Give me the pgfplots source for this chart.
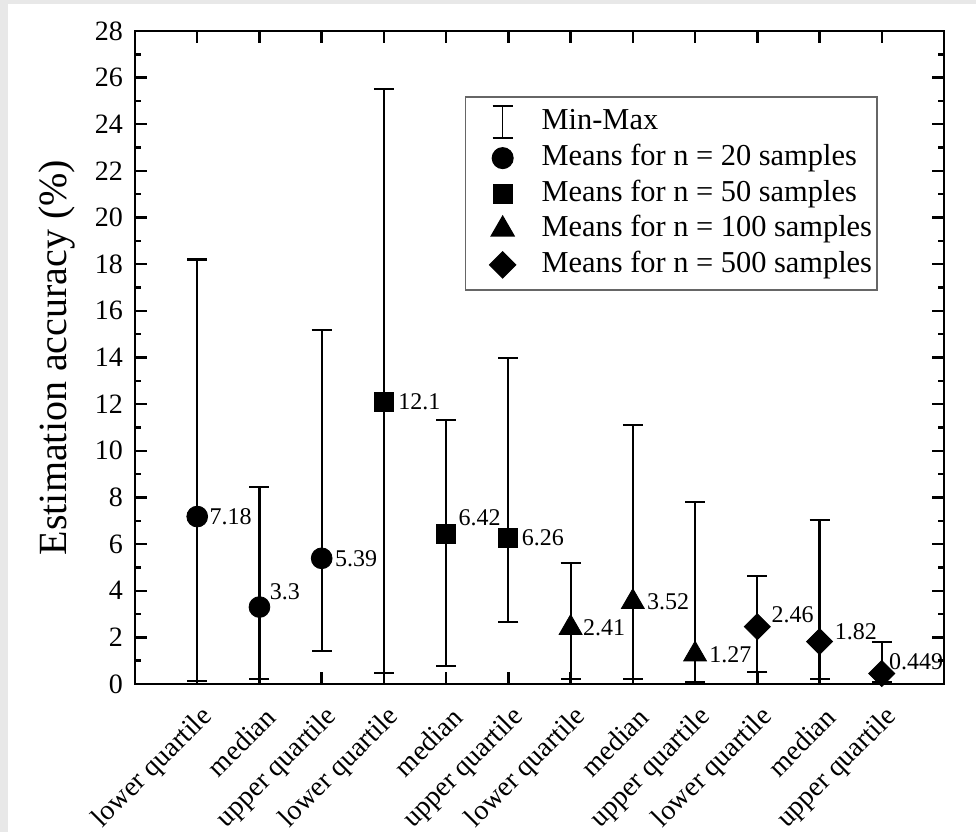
\documentclass[border=0pt]{standalone}
\usepackage{pgfplots}
\pgfplotsset{compat=1.18}
\usepackage{pgfplotstable}
\usepackage{fontspec}
\setmainfont{Liberation Serif}
\definecolor{bandgray}{HTML}{E8E8E8}

% x = position, y = mean, lo/hi = min/max, lab = value label, dx/dy = label offset in pt
\pgfplotstableread{
x y lo hi lab dx dy
1 7.18 0.13 18.20 7.18 6 0
2 3.30 0.20 8.46 3.3 5 7.5
3 5.39 1.40 15.17 5.39 6.5 0
}\nTwenty
\pgfplotstableread{
x y lo hi lab dx dy
4 12.10 0.46 25.50 12.1 7 0
5 6.42 0.77 11.32 6.42 6 8.5
6 6.26 2.67 13.99 6.26 6.5 0
}\nFifty
\pgfplotstableread{
x y lo hi lab dx dy
7 2.41 0.20 5.20 2.41 6 0
8 3.52 0.20 11.10 3.52 7 0
9 1.27 0.10 7.81 1.27 7 0
}\nHundred
\pgfplotstableread{
x y lo hi lab dx dy
10 2.46 0.51 4.64 2.46 7 6
11 1.82 0.20 7.03 1.82 7.5 5
12 0.449 0.10 1.81 0.449 3.5 6
}\nFiveHundred

\pgfplotsset{
  means/.style={only marks, black, mark=#1,
    error bars/y dir=both, error bars/y explicit,
    error bars/error bar style={line width=1.1pt, black},
    error bars/error mark options={rotate=90, mark size=5pt, line width=1.1pt, black}},
  markimg/.style={legend image code/.code={
    \path[draw=none, fill=none] (0pt,-6pt) rectangle (35.5pt,6pt);
    \draw[##1] plot coordinates {(17pt,0pt)};}},
}

\begin{document}
\begin{tikzpicture}
\fill[bandgray] (-67.5pt,-74pt) rectangle (420.5pt,342pt);
\fill[white] (-63.5pt,-74pt) rectangle (420.5pt,340pt);
\begin{axis}[
  scale only axis, width=404.5pt, height=326.5pt,
  xmin=0, xmax=13, ymin=0, ymax=28,
  xtick={1,...,12},
  xticklabels={lower quartile, median, upper quartile,
               lower quartile, median, upper quartile,
               lower quartile, median, upper quartile,
               lower quartile, median, upper quartile},
  ytick={0,2,...,28}, minor y tick num=1,
  tick align=inside, major tick length=6pt, minor tick length=3pt,
  every tick/.style={black, line width=1.2pt},
  axis line style={line width=1.4pt},
  /pgf/number format/assume math mode=true,
  y tick label style={font=\fontsize{14}{16}\selectfont, xshift=-2.5pt},
  x tick label style={font=\fontsize{14}{16}\selectfont, xshift=8pt, yshift=-12pt, rotate=45, anchor=east},
  ylabel={Estimation accuracy (\%)},
  every axis y label/.style={at={(axis description cs:-0.0964,0.5)}, rotate=90, anchor=center},
  ylabel style={font=\fontsize{20}{24}\selectfont},
  nodes near coords, point meta=explicit symbolic,
  visualization depends on={\thisrow{dx} \as \dx},
  visualization depends on={\thisrow{dy} \as \dy},
  every node near coord/.append style={anchor=west, inner sep=0pt,
    xshift=\dx pt, yshift=\dy pt, font=\fontsize{12}{14}\selectfont, black},
  legend cell align=left,
  legend style={at={(0.918,0.9)}, anchor=north east, draw=black!60, line width=0.6pt,
    inner xsep=1.5pt, inner ysep=4.25pt, font=\fontsize{15.2}{18}\selectfont,
    row sep=1.3pt,
    nodes={inner sep=1pt, text height=11pt, text depth=3.5pt}},
]
\addlegendimage{legend image code/.code={
  \path[draw=none, fill=none] (0pt,-6pt) rectangle (35.5pt,6pt);
  \draw[line width=0.8pt] (17pt,-8pt) -- (17pt,8pt)
    (12pt,-8pt) -- (22pt,-8pt) (12pt,8pt) -- (22pt,8pt);}}
\addlegendentry{Min-Max}
\addplot[means=*, mark size=5.2pt, markimg] table[x=x, y=y, meta=lab,
  y error plus expr=\thisrow{hi}-\thisrow{y}, y error minus expr=\thisrow{y}-\thisrow{lo}] {\nTwenty};
\addlegendentry{Means for n = 20 samples}
\addplot[means=square*, mark size=4.75pt, markimg] table[x=x, y=y, meta=lab,
  y error plus expr=\thisrow{hi}-\thisrow{y}, y error minus expr=\thisrow{y}-\thisrow{lo}] {\nFifty};
\addlegendentry{Means for n = 50 samples}
\addplot[means=triangle*, mark size=6.6pt, markimg] table[x=x, y=y, meta=lab,
  y error plus expr=\thisrow{hi}-\thisrow{y}, y error minus expr=\thisrow{y}-\thisrow{lo}] {\nHundred};
\addlegendentry{Means for n = 100 samples}
\addplot[means=square*, mark size=4.6pt, mark options={rotate=45}, markimg] table[x=x, y=y, meta=lab,
  y error plus expr=\thisrow{hi}-\thisrow{y}, y error minus expr=\thisrow{y}-\thisrow{lo}] {\nFiveHundred};
\addlegendentry{Means for n = 500 samples}
\end{axis}
\pgfresetboundingbox
\useasboundingbox (-67.5pt,-74pt) rectangle (420.5pt,342pt);
\end{tikzpicture}
\end{document}
